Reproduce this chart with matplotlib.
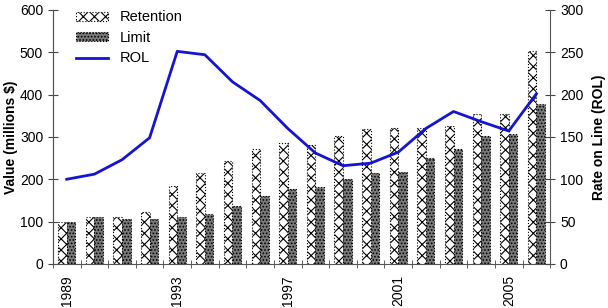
import numpy as np
import matplotlib.pyplot as plt

plt.rcParams['font.family'] = ['Liberation Sans', 'DejaVu Sans']
plt.rcParams['hatch.linewidth'] = 0.8

# data
years = list(range(1989, 2007))
retention = [100, 111, 111, 123, 184, 215, 242, 271, 286, 282, 302, 318, 320, 321, 326, 355, 355, 502]
limit = [100, 111, 105, 105, 111, 119, 136, 160, 178, 182, 200, 215, 218, 251, 271, 302, 306, 378]
rol = [100, 106, 123, 149, 251, 247, 215, 193, 160, 131, 116, 119, 132, 160, 180, 168, 157, 201]
label_years = [1989, 1993, 1997, 2001, 2005]

x = np.arange(len(years))
w = 0.31

fig = plt.figure(figsize=(6.08, 3.08), dpi=100)
ax = fig.add_axes([0.087, 0.143, 0.818, 0.825])

b1 = ax.bar(x - w / 2, retention, w, facecolor='white', edgecolor='black',
            hatch='xxx', linewidth=0.8, linestyle=':', label='Retention')
b2 = ax.bar(x + w / 2, limit, w, facecolor='#7a7a7a', edgecolor='black',
            hatch='.....', linewidth=0.8, linestyle=':', label='Limit')

ax.set_xlim(-0.5, len(years) - 0.5)
ax.set_ylim(0, 600)
ax.set_yticks(range(0, 601, 100))
ax.set_ylabel('Value (millions $)', fontsize=10, fontweight='bold', labelpad=1)

ax.set_xticks([years.index(y) for y in label_years])
ax.set_xticklabels([str(y) for y in label_years], rotation=90, fontsize=10)
ax.tick_params(axis='x', which='major', length=0, pad=8)
ax.set_xticks(np.arange(len(years) + 1) - 0.5, minor=True)
ax.tick_params(axis='x', which='minor', length=6, direction='inout', color='#444444')
ax.tick_params(axis='y', length=7, direction='inout', labelsize=10, color='#444444')

ax2 = ax.twinx()
ln, = ax2.plot(x, rol, color='#1414d2', linewidth=2, label='ROL')
ax2.set_ylim(0, 300)
ax2.set_yticks(range(0, 301, 50))
ax2.set_ylabel('Rate on Line (ROL)', fontsize=10, fontweight='bold', labelpad=6)
ax2.tick_params(axis='y', length=7, direction='inout', labelsize=10, color='#444444')

for a in (ax, ax2):
    a.spines['top'].set_visible(False)
    for s in ('left', 'right', 'bottom'):
        a.spines[s].set_color('#555555')
ax2.spines['bottom'].set_visible(False)
ax.spines['right'].set_visible(False)

ax.legend([b1, b2, ln], ['Retention', 'Limit', 'ROL'], loc='upper left',
          bbox_to_anchor=(0.02, 1.05), frameon=False, fontsize=10.5,
          handlelength=2.2, handleheight=0.6, labelspacing=0.45)

fig.savefig('out.png', dpi=100)
